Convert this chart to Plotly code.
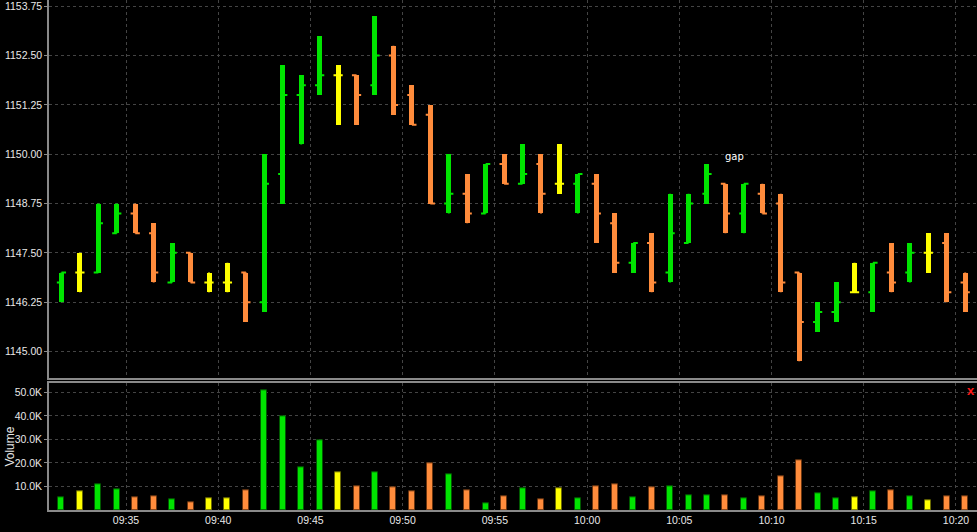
import pandas as pd
import plotly.graph_objects as go

# ---- data ----
bar_minutes = ["09:31", "09:32", "09:33", "09:34", "09:35", "09:36", "09:37", "09:38", "09:39", "09:40",
               "09:41", "09:42", "09:43", "09:44", "09:45", "09:46", "09:47", "09:48", "09:49", "09:50",
               "09:51", "09:52", "09:53", "09:54", "09:55", "09:56", "09:57", "09:58", "09:59", "10:00",
               "10:01", "10:02", "10:03", "10:04", "10:05", "10:06", "10:07", "10:08", "10:09", "10:10",
               "10:11", "10:12", "10:13", "10:14", "10:15", "10:16", "10:17", "10:18", "10:19", "10:20"]
open_ = [1146.75, 1147.00, 1147.00, 1148.00, 1148.50, 1148.00, 1146.75, 1147.50, 1146.75, 1146.75,
         1147.00, 1146.25, 1149.50, 1151.50, 1151.75, 1152.00, 1152.00, 1151.75, 1152.50, 1151.50,
         1151.00, 1148.75, 1149.00, 1148.50, 1149.75, 1149.25, 1149.75, 1149.25, 1149.25, 1149.25,
         1148.25, 1147.25, 1147.75, 1147.00, 1147.75, 1149.00, 1149.25, 1148.50, 1149.00, 1148.75,
         1147.00, 1145.75, 1146.00, 1146.50, 1146.50, 1147.00, 1147.00, 1147.50, 1147.75, 1146.75]
high = [1147.00, 1147.50, 1148.75, 1148.75, 1148.75, 1148.25, 1147.75, 1147.50, 1147.00, 1147.25,
        1147.00, 1150.00, 1152.25, 1152.00, 1153.00, 1152.25, 1152.00, 1153.50, 1152.75, 1151.75,
        1151.25, 1150.00, 1149.50, 1149.75, 1150.00, 1150.25, 1150.00, 1150.25, 1149.50, 1149.50,
        1148.50, 1147.75, 1148.00, 1149.00, 1149.00, 1149.75, 1149.25, 1149.25, 1149.25, 1149.00,
        1147.00, 1146.25, 1146.75, 1147.25, 1147.25, 1147.75, 1147.75, 1148.00, 1148.00, 1147.00]
low = [1146.25, 1146.50, 1147.00, 1148.00, 1148.00, 1146.75, 1146.75, 1146.75, 1146.50, 1146.50,
       1145.75, 1146.00, 1148.75, 1150.25, 1151.50, 1150.75, 1150.75, 1151.50, 1151.00, 1150.75,
       1148.75, 1148.50, 1148.25, 1148.50, 1149.25, 1149.25, 1148.50, 1149.00, 1148.50, 1147.75,
       1147.00, 1147.00, 1146.50, 1146.75, 1147.75, 1148.75, 1148.00, 1148.00, 1148.50, 1146.50,
       1144.75, 1145.50, 1145.75, 1146.50, 1146.00, 1146.50, 1146.75, 1147.00, 1146.25, 1146.00]
close = [1147.00, 1147.00, 1148.25, 1148.50, 1148.00, 1147.00, 1147.50, 1146.75, 1146.75, 1146.75,
         1146.25, 1149.25, 1151.50, 1151.75, 1152.00, 1152.00, 1151.50, 1152.50, 1151.25, 1150.75,
         1148.75, 1149.00, 1148.50, 1149.75, 1149.25, 1149.50, 1149.00, 1149.25, 1149.50, 1148.50,
         1147.25, 1147.75, 1146.75, 1148.00, 1148.75, 1149.50, 1148.50, 1149.25, 1148.50, 1146.75,
         1145.75, 1146.00, 1146.25, 1146.50, 1147.25, 1146.75, 1147.50, 1147.50, 1146.50, 1146.50]
volume = [5500, 8100, 10700, 8800, 5500, 5800, 4700, 3300, 4900, 5100,
          8500, 50900, 39600, 18100, 29800, 16100, 10000, 16100, 9500, 7800,
          19800, 15100, 8500, 3000, 5800, 9200, 4400, 9200, 4800, 10000,
          10900, 5400, 9800, 9900, 6400, 6200, 6400, 4800, 5800, 14400,
          21100, 7200, 4800, 5500, 8100, 8200, 5900, 4100, 5700, 5800]
price_ticks = [1145.00, 1146.25, 1147.50, 1148.75, 1150.00, 1151.25, 1152.50, 1153.75]
vol_ticks = [10000, 20000, 30000, 40000, 50000]
vol_tick_labels = ["10.0K", "20.0K", "30.0K", "40.0K", "50.0K"]
annotation_text = "gap"

# ---- styling ----
GREEN, ORANGE, YELLOW = "#00E400", "#FF8C3C", "#FFFF00"
DGREEN, DORANGE, DYELLOW = "#005a00", "#6a3510", "#6a6a00"
GRID = "#444444"
AXIS = "#8a8a8a"
TXT = "#e8e8e8"
FONT = "Liberation Sans, Arial, sans-serif"

x = [pd.Timestamp("2011-01-03 " + t) + pd.Timedelta(seconds=30) for t in bar_minutes]

def col(o, c, up, dn, eq):
    return up if c > o else (dn if c < o else eq)

colors = [col(o, c, GREEN, ORANGE, YELLOW) for o, c in zip(open_, close)]
dcolors = [col(o, c, DGREEN, DORANGE, DYELLOW) for o, c in zip(open_, close)]

px_per_min = 18.444
ms_per_px = 60000 / px_per_min

fig = go.Figure()

# price range bars (thick)
fig.add_trace(go.Bar(
    x=x, y=[h - l for h, l in zip(high, low)], base=low,
    width=[5 * ms_per_px] * len(x), marker=dict(color=colors, line=dict(width=0)),
    xaxis="x", yaxis="y", showlegend=False, hoverinfo="skip"))

# open/close ticks via OHLC
idx_nd = [i for i in range(len(x)) if open_[i] != close[i]]
idx_d = [i for i in range(len(x)) if open_[i] == close[i]]
for idx, inc, dec in [(idx_nd, GREEN, ORANGE), (idx_d, YELLOW, YELLOW)]:
    fig.add_trace(go.Ohlc(
        x=[x[i] for i in idx], open=[open_[i] for i in idx], high=[high[i] for i in idx],
        low=[low[i] for i in idx], close=[close[i] for i in idx],
        increasing=dict(line=dict(color=inc, width=2)),
        decreasing=dict(line=dict(color=dec, width=2)),
        tickwidth=0.25, xaxis="x", yaxis="y", showlegend=False, hoverinfo="skip"))

# volume
fig.add_trace(go.Bar(
    x=x, y=volume, width=[6 * ms_per_px] * len(x),
    marker=dict(color=colors, line=dict(color=dcolors, width=1)),
    xaxis="x2", yaxis="y2", showlegend=False, hoverinfo="skip"))

x0 = pd.Timestamp("2011-01-03 09:35") - pd.Timedelta(milliseconds=(126 - 49) * ms_per_px)
x1 = pd.Timestamp("2011-01-03 09:35") + pd.Timedelta(milliseconds=(977 - 126) * ms_per_px)

common_x = dict(type="date", range=[x0, x1], tickformat="%H:%M", dtick=300000,
                tick0="2011-01-03 09:35", showgrid=True, gridcolor=GRID, griddash="3px,3px",
                gridwidth=1, zeroline=False, rangeslider=dict(visible=False),
                linecolor=AXIS, linewidth=1.5, showline=True, ticks="outside", ticklen=0,
                automargin=False,
                tickfont=dict(color=TXT, size=10.5, family=FONT))

ycommon = dict(showgrid=True, gridcolor=GRID, griddash="3px,3px", zeroline=False,
               showline=True, linecolor=AXIS, linewidth=1.5, ticks="outside", ticklen=3,
               tickcolor=AXIS, automargin=False, ticklabeloverflow="allow",
               tickfont=dict(color=TXT, size=10.5, family=FONT))

fig.update_layout(
    width=977, height=532,
    margin=dict(l=49, r=0, t=0, b=22, autoexpand=False),
    paper_bgcolor="#000000", plot_bgcolor="#000000",
    barmode="overlay", bargap=0,
    font=dict(family=FONT, color=TXT),
    xaxis=dict(common_x, anchor="y", showticklabels=False, matches="x2"),
    xaxis2=dict(common_x, anchor="y2", mirror=True),
    yaxis=dict(ycommon, domain=[0.2582, 1], range=[1144.32, 1153.91], tickvals=price_ticks,
               ticktext=[f"{v:.2f}" for v in price_ticks]),
    yaxis2=dict(ycommon, domain=[0, 0.2484], range=[0, 53800], tickvals=vol_ticks,
                ticktext=vol_tick_labels),
    annotations=[
        dict(x=pd.Timestamp("2011-01-03 10:08"), y=1149.95, xref="x", yref="y",
             text=annotation_text, showarrow=False, font=dict(color="#ffffff", size=10, family="DejaVu Sans")),
        dict(x=-0.0425, y=(510 - 447) / 510, xref="paper", yref="paper", text="Volume",
             textangle=-90, showarrow=False, font=dict(color=TXT, size=12, family=FONT),
             xanchor="center", yanchor="middle"),
        dict(x=1, y=(510 - 390) / 510, xref="paper", yref="paper", text="<b>x</b>",
             showarrow=False, xanchor="right", yanchor="middle", xshift=0,
             font=dict(color="#ff1a1a", size=13, family=FONT)),
    ],
)

fig.write_html("out.html", config={"displayModeBar": False},
               post_script="document.body.style.margin='0';document.body.style.padding='0';document.body.style.overflow='hidden';")
